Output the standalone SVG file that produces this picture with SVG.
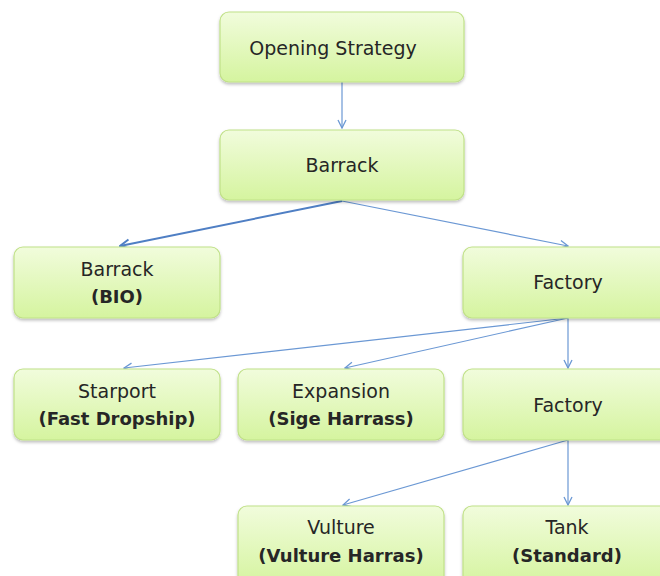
<svg xmlns="http://www.w3.org/2000/svg" width="660" height="576" viewBox="0 0 660 576">
<defs>
<linearGradient id="g" x1="0" y1="0" x2="0" y2="1">
<stop offset="0" stop-color="#f1fcdc"/>
<stop offset="1" stop-color="#d5f49f"/>
</linearGradient>
<filter id="sh" x="-10%" y="-10%" width="120%" height="130%">
<feDropShadow dx="0" dy="2" stdDeviation="1.5" flood-color="#000" flood-opacity="0.25"/>
</filter>
<marker id="ah" viewBox="0 0 10 10" refX="9" refY="5" markerWidth="10" markerHeight="10" markerUnits="userSpaceOnUse" orient="auto">
<polyline points="1,1 9,5 1,9" fill="none" stroke="#6b98d4" stroke-width="1.3"/>
</marker>
<marker id="ah2" viewBox="0 0 10 10" refX="9" refY="5" markerWidth="12" markerHeight="12" markerUnits="userSpaceOnUse" orient="auto">
<polyline points="1,1 9,5 1,9" fill="none" stroke="#4f7fc4" stroke-width="1.6"/>
</marker>
</defs>
<style>
.box{fill:url(#g);stroke:#c0e188;stroke-width:1.2;filter:url(#sh)}
.t{font-family:"DejaVu Sans",Verdana,sans-serif;font-size:19px;fill:#262626;text-anchor:middle}
.b{font-weight:bold;font-size:18px}
.c{fill:none;stroke:#6b98d4;stroke-width:1.2;marker-end:url(#ah)}
.c2{fill:none;stroke:#4f7fc4;stroke-width:2;marker-end:url(#ah2)}
</style>
<rect width="660" height="576" fill="#fff"/>
<g id="connectors">
<line class="c" x1="342" y1="82" x2="342" y2="128"/>
<line class="c2" x1="342" y1="201" x2="120" y2="246"/>
<line class="c" x1="342" y1="201" x2="568" y2="246"/>
<line class="c" x1="568" y1="318" x2="124" y2="368"/>
<line class="c" x1="568" y1="318" x2="345" y2="368"/>
<line class="c" x1="568" y1="318" x2="568" y2="368"/>
<line class="c" x1="568" y1="440" x2="343" y2="505"/>
<line class="c" x1="568" y1="440" x2="568" y2="505"/>
</g>
<g id="opening">
<rect class="box" x="220" y="12" width="244" height="70" rx="9"/>
<text class="t" x="333" y="55">Opening Strategy</text>
</g>
<g id="barrack">
<rect class="box" x="220" y="130" width="244" height="70" rx="9"/>
<text class="t" x="342" y="172">Barrack</text>
</g>
<g id="barrack-bio">
<rect class="box" x="14" y="247" width="206" height="71" rx="9"/>
<text class="t" x="117" y="276">Barrack</text>
<text class="t b" x="117" y="303">(BIO)</text>
</g>
<g id="factory1">
<rect class="box" x="463" y="247" width="210" height="71" rx="9"/>
<text class="t" x="568" y="289">Factory</text>
</g>
<g id="starport">
<rect class="box" x="14" y="369" width="206" height="71" rx="9"/>
<text class="t" x="117" y="398">Starport</text>
<text class="t b" x="117" y="425">(Fast Dropship)</text>
</g>
<g id="expansion">
<rect class="box" x="238" y="369" width="206" height="71" rx="9"/>
<text class="t" x="341" y="398">Expansion</text>
<text class="t b" x="341" y="425">(Sige Harrass)</text>
</g>
<g id="factory2">
<rect class="box" x="463" y="369" width="210" height="71" rx="9"/>
<text class="t" x="568" y="412">Factory</text>
</g>
<g id="vulture">
<rect class="box" x="238" y="506" width="206" height="80" rx="9"/>
<text class="t" x="341" y="534">Vulture</text>
<text class="t b" x="341" y="562">(Vulture Harras)</text>
</g>
<g id="tank">
<rect class="box" x="463" y="506" width="210" height="80" rx="9"/>
<text class="t" x="567" y="534">Tank</text>
<text class="t b" x="567" y="562">(Standard)</text>
</g>
</svg>
